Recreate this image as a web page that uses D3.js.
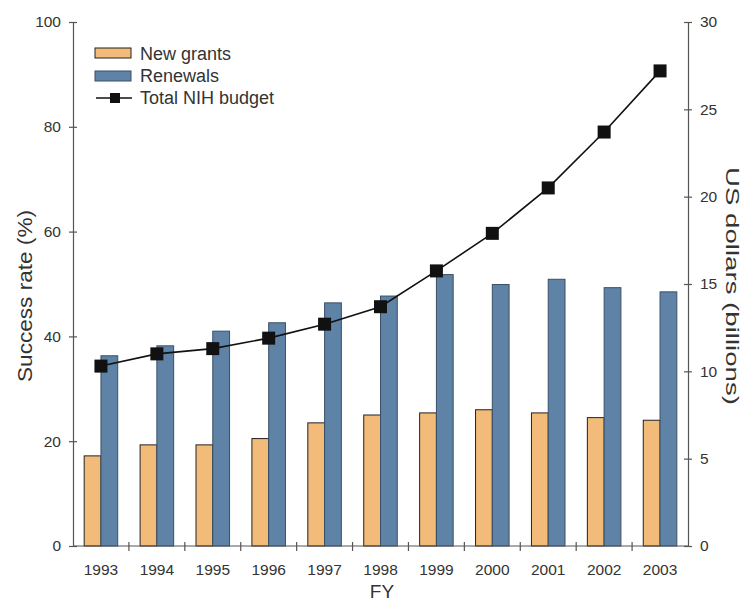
<!DOCTYPE html>
<html>
<head>
<meta charset="utf-8">
<script src="https://d3js.org/d3.v7.min.js"></script>
<style>
  body { margin: 0; background: #fff; }
  text { font-family: "Liberation Sans", Arial, sans-serif; fill: #333; }
</style>
</head>
<body>
<script>
// data
var years = ["1993","1994","1995","1996","1997","1998","1999","2000","2001","2002","2003"];
var newGrants = [17.2, 19.3, 19.3, 20.5, 23.5, 25.0, 25.4, 26.0, 25.4, 24.5, 24.0];
var renewals = [36.3, 38.2, 41.0, 42.6, 46.4, 47.7, 51.8, 49.9, 50.9, 49.3, 48.5];
var budget = [10.3, 11.0, 11.3, 11.9, 12.7, 13.7, 15.75, 17.9, 20.5, 23.7, 27.2];
var leftTicks = [0, 20, 40, 60, 80, 100];
var rightTicks = [0, 5, 10, 15, 20, 25, 30];

var W = 743, H = 601;
var mLeft = 73, mRight = 688, mTop = 22, mBottom = 546;
var axisCol = "#555";

var svg = d3.select("body").append("svg")
  .attr("width", W).attr("height", H);

var x = d3.scaleBand().domain(years).range([mLeft, mRight]).padding(0);
var yL = d3.scaleLinear().domain([0, 100]).range([mBottom, mTop]);
var yR = d3.scaleLinear().domain([0, 30]).range([mBottom, mTop]);

var bw = x.bandwidth() * 0.3;

// bars
var g = svg.append("g");
g.selectAll(".ng").data(years).enter().append("rect")
  .attr("x", function(d) { return x(d) + x.bandwidth()/2 - bw; })
  .attr("y", function(d, i) { return yL(newGrants[i]); })
  .attr("width", bw)
  .attr("height", function(d, i) { return mBottom - yL(newGrants[i]); })
  .attr("fill", "#f2bb7a").attr("stroke", "#222").attr("stroke-width", 1);
g.selectAll(".rn").data(years).enter().append("rect")
  .attr("x", function(d) { return x(d) + x.bandwidth()/2; })
  .attr("y", function(d, i) { return yL(renewals[i]); })
  .attr("width", bw)
  .attr("height", function(d, i) { return mBottom - yL(renewals[i]); })
  .attr("fill", "#5f83a6").attr("stroke", "#3a4f66").attr("stroke-width", 1);

// budget line
var line = d3.line()
  .x(function(d, i) { return x(years[i]) + x.bandwidth()/2; })
  .y(function(d) { return yR(d); });
svg.append("path").datum(budget)
  .attr("d", line).attr("fill", "none")
  .attr("stroke", "#111").attr("stroke-width", 1.6);
svg.selectAll(".mk").data(budget).enter().append("rect")
  .attr("x", function(d, i) { return x(years[i]) + x.bandwidth()/2 - 6.5; })
  .attr("y", function(d) { return yR(d) - 6.5; })
  .attr("width", 13).attr("height", 13)
  .attr("fill", "#111");

// axes
function styleAxis(sel) {
  sel.select(".domain").attr("stroke", axisCol).attr("stroke-width", 1.2);
  sel.selectAll(".tick line").attr("stroke", axisCol).attr("stroke-width", 1.2);
  sel.selectAll("text").attr("font-size", 15.5)
    .attr("font-family", "Liberation Sans, Arial, sans-serif").attr("fill", "#333");
}

var axL = svg.append("g").attr("transform", "translate(" + mLeft + ",0)")
  .call(d3.axisLeft(yL).tickValues(leftTicks).tickSize(4).tickPadding(8).tickSizeOuter(0));
axL.selectAll(".tick line").attr("x2", 4).attr("x1", -4);
styleAxis(axL);

var axR = svg.append("g").attr("transform", "translate(" + mRight + ",0)")
  .call(d3.axisRight(yR).tickValues(rightTicks).tickSize(4).tickPadding(8).tickSizeOuter(0));
axR.selectAll(".tick line").attr("x2", -4).attr("x1", 4);
styleAxis(axR);

var axB = svg.append("g").attr("transform", "translate(0," + mBottom + ")")
  .call(d3.axisBottom(x).tickSize(0).tickPadding(18).tickSizeOuter(0));
styleAxis(axB);
axB.select(".domain").attr("d", "M" + mLeft + ",0H" + mRight);
// ticks between categories
axB.selectAll(".sep").data(years.slice(1)).enter().append("line")
  .attr("x1", function(d) { return x(d); }).attr("x2", function(d) { return x(d); })
  .attr("y1", -4).attr("y2", 5)
  .attr("stroke", axisCol).attr("stroke-width", 1.2);

// axis titles
svg.append("text").attr("x", 382).attr("y", 598)
  .attr("text-anchor", "middle").attr("font-size", 19).text("FY");
svg.append("text").attr("transform", "translate(32,296) rotate(-90)")
  .attr("text-anchor", "middle").attr("font-size", 20)
  .attr("textLength", 172).attr("lengthAdjust", "spacingAndGlyphs")
  .text("Success rate (%)");
svg.append("text").attr("transform", "translate(726,286) rotate(90)")
  .attr("text-anchor", "middle").attr("font-size", 19)
  .attr("textLength", 238).attr("lengthAdjust", "spacingAndGlyphs")
  .text("US dollars (billions)");

// legend
var lg = svg.append("g");
lg.append("rect").attr("x", 95).attr("y", 48).attr("width", 36).attr("height", 10)
  .attr("fill", "#f2bb7a").attr("stroke", "#222");
lg.append("text").attr("x", 140).attr("y", 60).attr("font-size", 18).text("New grants");
lg.append("rect").attr("x", 95).attr("y", 71).attr("width", 36).attr("height", 10)
  .attr("fill", "#5f83a6").attr("stroke", "#3a4f66");
lg.append("text").attr("x", 140).attr("y", 82).attr("font-size", 18).text("Renewals");
lg.append("line").attr("x1", 96).attr("x2", 132).attr("y1", 98).attr("y2", 98)
  .attr("stroke", "#111").attr("stroke-width", 1.6);
lg.append("rect").attr("x", 110).attr("y", 93).attr("width", 10).attr("height", 10)
  .attr("fill", "#111");
lg.append("text").attr("x", 140).attr("y", 104).attr("font-size", 18).text("Total NIH budget");
</script>
</body>
</html>
